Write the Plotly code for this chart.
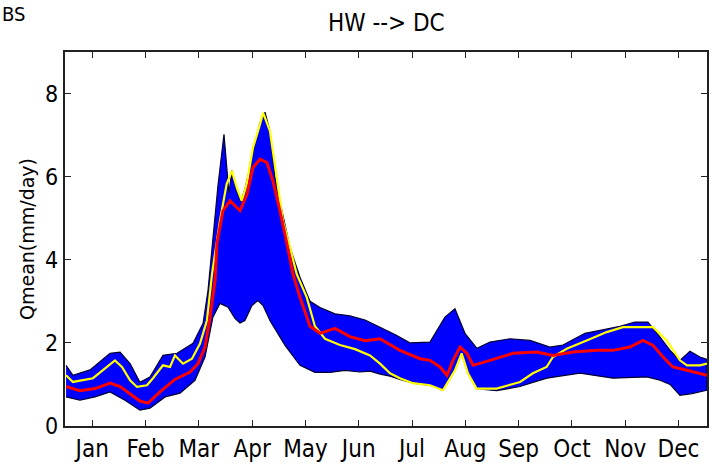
import plotly.graph_objects as go

# ---- data (day of year, Qmean mm/day) ----
upper_days = [0.6, 4.5, 14.2, 25.6, 31.3, 37, 42.6, 48.3, 55.7, 63.7, 72.8, 78.5, 81.3, 84.1, 87, 90.4,
              93.2, 94.9, 97.2, 100.1, 102.9, 108, 110.9, 113.7, 116.5, 119.4, 122.2, 127.9, 133.6,
              139.3, 145, 153.5, 162, 170.6, 179.1, 187.6, 196.1, 207.5, 216, 221.7, 227.4, 234.2,
              241.6, 253, 264.4, 275.7, 283.1, 295.6, 304.2, 315.5, 324, 331.4, 338.3, 344, 349.6,
              355.3, 361, 365]
upper_vals = [1.46, 1.22, 1.35, 1.75, 1.78, 1.5, 1.05, 1.18, 1.70, 1.75, 1.99, 2.47, 3.26, 4.46, 5.8, 7.02,
              5.6, 6.15, 5.7, 5.4, 5.8, 6.8, 7.3, 7.55, 7.1, 6.0, 5.4, 4.3, 3.58,
              3.0, 2.85, 2.7, 2.65, 2.55, 2.38, 2.2, 2.0, 2.02, 2.62, 2.82, 2.23, 1.87,
              2.02, 2.1, 2.06, 1.9, 1.95, 2.23, 2.3, 2.4, 2.5, 2.5, 2.14, 1.82, 1.58,
              1.8, 1.66, 1.6]

lower_days = [0.6, 8.5, 17.1, 25.6, 34.1, 42.6, 48.3, 56.9, 65.4, 73.9, 79.6, 84.1, 88.1, 92.7, 96.6,
              99.5, 102.3, 106.3, 109.7, 112.6, 116.5, 125.1, 133.6, 142.1, 150.7, 159.2, 167.7,
              173.4, 179.1, 184.8, 190.4, 197.8, 207.5, 214.9, 221.7, 225.5, 229.1, 234, 245.4,
              258.7, 266, 274, 284.3, 292.8, 311.5, 330.9, 338.3, 344, 349.6, 356.5, 365]
lower_vals = [0.70, 0.62, 0.70, 0.82, 0.62, 0.38, 0.43, 0.70, 0.79, 1.1, 1.66, 2.62, 2.95, 2.86, 2.59,
              2.48, 2.54, 2.9, 3.02, 2.9, 2.54, 1.94, 1.46, 1.29, 1.29, 1.34, 1.3,
              1.32, 1.25, 1.2, 1.12, 1.03, 0.98, 0.86, 1.34, 1.75, 1.27, 0.9, 0.85,
              0.95, 1.05, 1.15, 1.22, 1.27, 1.15, 1.18, 1.1, 1.0, 0.74, 0.78, 0.86]

yellow_days = [0.6, 4.5, 15.9, 25.6, 28.4, 32.4, 37, 40.9, 46.6, 50, 55.7, 59.7, 62.5, 67.1, 72.2, 76.7,
               80.7, 83.6, 86.4, 88.1, 91.9, 94.9, 97.6, 100.5, 103.3, 106.9, 110.9, 112.6, 116.5,
               120.4, 123.9, 127.9, 131.7, 137.4, 142.1, 147.8, 156.3, 164.9, 173.4, 179.1, 184.8,
               190.4, 197.8, 207.5, 214.9, 221.7, 225.5, 229.1, 234, 245.4, 258.7, 266, 273.8,
               277.4, 285.2, 296.6, 308, 317.2, 326.9, 334.3, 342.1, 349.6, 353.6, 361, 365]
yellow_vals = [1.22, 1.06, 1.15, 1.5, 1.58, 1.42, 1.1, 0.94, 0.98, 1.15, 1.46, 1.42, 1.7, 1.5, 1.62, 1.98,
               2.54, 3.66, 4.46, 4.94, 5.82, 6.14, 5.74, 5.42, 5.82, 6.7, 7.26, 7.54, 7.1,
               5.9, 4.94, 4.3, 3.66, 3.1, 2.4, 2.1, 1.95, 1.85, 1.7, 1.5, 1.27,
               1.15, 1.03, 0.98, 0.86, 1.34, 1.75, 1.27, 0.9, 0.9, 1.06, 1.27, 1.42,
               1.66, 1.86, 2.06, 2.26, 2.38, 2.38, 2.38, 2.06, 1.58, 1.46, 1.46, 1.5]

red_days = [0.6, 8.5, 17.1, 25.6, 31.3, 42.6, 47.2, 54, 62.5, 71.1, 75.6, 79.6, 82.4, 85.3, 86.4, 89.8,
            93.8, 99.5, 103.5, 106.9, 110.9, 114.8, 118.2, 122.2, 126.2, 129.6, 133.6, 139.3, 145,
            153.5, 162, 170.6, 179.1, 190.4, 201.8, 207.5, 213.2, 217.2, 220.6, 224.6, 228.5, 232,
            241.6, 254.7, 268.3, 277.4, 288.8, 302.4, 311.5, 321.2, 328.6, 334.3, 340, 345.6, 353.6,
            361, 365]
red_vals = [0.95, 0.85, 0.9, 1.03, 0.95, 0.6, 0.55, 0.82, 1.12, 1.3, 1.5, 1.9, 2.6, 3.5, 4.4, 5.18,
            5.42, 5.18, 5.58, 6.22, 6.42, 6.34, 5.9, 5.18, 4.38, 3.66, 3.1, 2.4, 2.23,
            2.35, 2.15, 2.05, 2.1, 1.82, 1.62, 1.58, 1.42, 1.22, 1.58, 1.9, 1.75, 1.46,
            1.58, 1.75, 1.78, 1.7, 1.78, 1.82, 1.82, 1.9, 2.06, 1.94, 1.66, 1.42, 1.34,
            1.27, 1.22]

month_labels = ["Jan", "Feb", "Mar", "Apr", "May", "Jun", "Jul", "Aug", "Sep", "Oct", "Nov", "Dec"]
month_tick_days = [15.5, 45.8, 76.1, 106.4, 136.7, 167.0, 197.3, 227.6, 257.9, 288.2, 318.5, 348.8]
y_ticks = [0, 2, 4, 6, 8]

NARROW = "Liberation Sans Narrow, Arial Narrow, DejaVu Sans Condensed, sans-serif"
WIDE = "DejaVu Sans, Verdana, sans-serif"

fig = go.Figure()
fig.add_trace(go.Scatter(
    x=upper_days + lower_days[::-1], y=upper_vals + lower_vals[::-1],
    fill="toself", fillcolor="#0000FF", mode="lines",
    line=dict(color="#000033", width=1.2), hoverinfo="skip", showlegend=False))
fig.add_trace(go.Scatter(x=yellow_days, y=yellow_vals, mode="lines",
                         line=dict(color="#FFFF00", width=2.2), showlegend=False))
fig.add_trace(go.Scatter(x=red_days, y=red_vals, mode="lines",
                         line=dict(color="#FF0000", width=3), showlegend=False))

axis_common = dict(showgrid=False, zeroline=False, showline=True, linecolor="#222222", linewidth=1.5,
                   mirror="ticks", ticks="inside", ticklen=6, tickwidth=1.2, tickcolor="#222222",
                   automargin=False)
fig.update_xaxes(range=[0, 365], tickvals=month_tick_days, ticktext=month_labels,
                 tickfont=dict(family=NARROW, size=24, color="black"), **axis_common)
fig.update_yaxes(range=[0, 9], tickvals=y_ticks, showticklabels=False, **axis_common)

plot_h = 464 - 52 - 38
plot_w = 712 - 65 - 5

annotations = [
    dict(text="HW --> DC", x=0.5, xref="paper", y=1 + (52 - 22.5) / plot_h, yref="paper",
         xanchor="center", yanchor="middle", showarrow=False,
         font=dict(family=NARROW, size=24, color="black")),
    dict(text="BS", x=-65 / plot_w, xref="paper", y=1 + 52 / plot_h, yref="paper",
         xanchor="left", yanchor="top", showarrow=False,
         font=dict(family=NARROW, size=20, color="black")),
    dict(text="Qmean(mm/day)", x=-(65 - 27) / plot_w, xref="paper", y=0.5, yref="paper",
         xanchor="center", yanchor="middle", textangle=-90, showarrow=False,
         font=dict(family=WIDE, size=19, color="black")),
]
for v in y_ticks:
    annotations.append(dict(text=str(v), x=-(65 - 60) / plot_w, xref="paper", y=v, yref="y",
                            xanchor="right", yanchor="middle", showarrow=False,
                            font=dict(family=NARROW, size=23, color="black")))

fig.update_layout(
    width=712, height=464,
    margin=dict(l=65, r=5, t=52, b=38, pad=0),
    plot_bgcolor="white", paper_bgcolor="white",
    annotations=annotations,
)
fig.write_html("out.html")
